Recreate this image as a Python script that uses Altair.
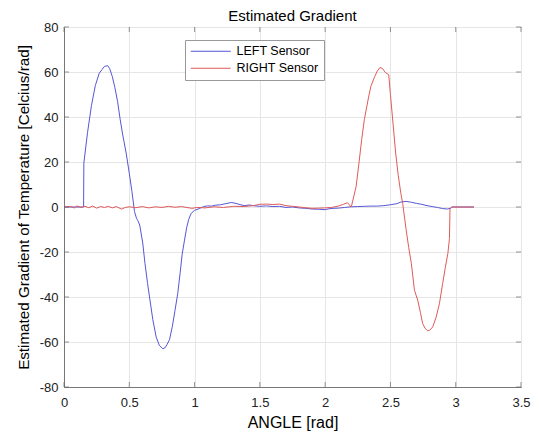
import altair as alt
import pandas as pd

# LEFT sensor (blue)
left_x = [0, 0.15, 0.152, 0.18, 0.21, 0.24, 0.27, 0.29, 0.31, 0.335, 0.35, 0.37, 0.39, 0.41, 0.43, 0.45,
          0.476, 0.5, 0.52, 0.54, 0.555, 0.565, 0.58, 0.603, 0.62, 0.64, 0.655, 0.68, 0.706, 0.73, 0.757,
          0.775, 0.79, 0.808, 0.83, 0.85, 0.871, 0.89, 0.905, 0.923, 0.94, 0.955, 0.974, 1.0, 1.04, 1.07,
          1.1, 1.13, 1.16, 1.2, 1.24, 1.28, 1.31, 1.34, 1.38, 1.42, 1.46, 1.5, 1.55, 1.6, 1.65, 1.7, 1.75,
          1.8, 1.85, 1.9, 1.95, 2.0, 2.03, 2.06, 2.1, 2.15, 2.2, 2.25, 2.3, 2.35, 2.4, 2.45, 2.5, 2.55,
          2.58, 2.62, 2.66, 2.7, 2.74, 2.78, 2.82, 2.86, 2.9, 2.94, 2.96, 2.97, 3.14]
left_y = [0, 0, 19.5, 33, 45, 54, 59.5, 61, 62.5, 62.8, 61.5, 58, 53, 47, 39, 32,
          24, 15, 7, -2, -5, -6, -8, -16, -25, -34, -40, -50, -57.8, -61.5, -63,
          -62.5, -61, -59, -53, -46, -38.5, -29, -21, -14.7, -9, -5.5, -2.8, -1.5, -0.6, 0.2,
          0.5, 0.4, 0.8, 1.0, 1.5, 2.0, 1.7, 1.2, 0.6, 0.9, 0.5, 0.3, 0.5, 0.2, 0.3, -0.2, 0.0,
          -0.4, -0.6, -0.9, -1.0, -1.2, -0.8, -0.6, -0.5, -0.2, 0.1, 0.2, 0.3, 0.4, 0.4, 0.6, 1.0, 1.5,
          2.2, 2.5, 2.1, 1.6, 1.2, 0.6, 0.2, -0.2, -0.7, -0.9, -0.5, 0, 0]

# RIGHT sensor (red)
right_x = [0, 0.05, 0.08, 0.1, 0.13, 0.16, 0.19, 0.22, 0.25, 0.28, 0.31, 0.34, 0.37, 0.4, 0.44, 0.47,
           0.5, 0.55, 0.6, 0.65, 0.7, 0.75, 0.8, 0.85, 0.9, 0.95, 0.98, 1.02, 1.08, 1.15, 1.22, 1.3,
           1.38, 1.45, 1.5, 1.55, 1.6, 1.65, 1.7, 1.75, 1.8, 1.85, 1.9, 1.95, 2.0, 2.05, 2.1, 2.14,
           2.17, 2.2, 2.237, 2.26, 2.28, 2.30, 2.33, 2.35, 2.38, 2.40, 2.42, 2.44, 2.46, 2.487, 2.50,
           2.52, 2.54, 2.56, 2.58, 2.594, 2.62, 2.64, 2.66, 2.684, 2.709, 2.73, 2.747, 2.766, 2.786,
           2.80, 2.824, 2.85, 2.875, 2.90, 2.92, 2.94, 2.952, 2.956, 2.97, 3.14]
right_y = [0, 0.2, -0.4, 0.5, -0.2, 0.3, -0.3, 0.4, -0.5, 0.2, -0.2, 0.3, -0.4, 0.2, -0.9, -0.2,
           0.1, -0.3, 0.2, -0.4, 0.1, -0.2, 0.3, -0.1, 0.2, -0.3, -0.6, -0.2, -0.4, 0.1, -0.2, 0.3,
           0.2, 0.6, 1.2, 1.3, 1.1, 1.3, 0.6, 0.3, 0.0, -0.3, -0.6, -0.5, -0.4, -0.2, 0.4, 1.2,
           1.9, 0, 9, 20, 30, 38.8, 48, 53.6, 58, 60.5, 62, 61.5, 59.8, 58.8, 50,
           37, 24, 14, 6, 1.6, -10, -18, -25, -37, -41.4, -47, -51.8, -54, -55,
           -54.8, -53.3, -49, -43, -34, -27, -20.6, -14, -1.0, 0, 0]

x_ticks = [0, 0.5, 1, 1.5, 2, 2.5, 3, 3.5]
y_ticks = [-80, -60, -40, -20, 0, 20, 40, 60, 80]

series = ["LEFT Sensor", "RIGHT Sensor"]
colors = ["#5656d8", "#e05a5a"]

df = pd.concat([
    pd.DataFrame({"x": left_x, "y": left_y, "s": series[0], "o": range(len(left_x))}),
    pd.DataFrame({"x": right_x, "y": right_y, "s": series[1], "o": range(len(right_x))}),
])

W, H = 457, 360
FONT = "Liberation Sans"

xs = alt.Scale(domain=[0, 3.5], nice=False, zero=False)
ys = alt.Scale(domain=[-80, 80], nice=False, zero=False)

axis_common = dict(grid=True, ticks=False, labelFlush=False, labelExpr="datum.value + ''",
                   labelFont=FONT, labelFontSize=13, labelColor="#222",
                   titleFont=FONT, titleFontWeight="normal", titleColor="#000",
                   gridColor="#e6e6e6", gridWidth=1, domainColor="#777", domainWidth=1)

lines = alt.Chart(df).mark_line(strokeWidth=1, clip=True).encode(
    x=alt.X("x:Q", scale=xs,
            axis=alt.Axis(values=x_ticks, title="ANGLE [rad]", labelPadding=9, titleFontSize=16,
                          titleY=40, titleBaseline="alphabetic", **axis_common)),
    y=alt.Y("y:Q", scale=ys,
            axis=alt.Axis(values=y_ticks, title="Estimated Gradient of Temperature [Celcius/rad]",
                          labelPadding=6, titleX=-36, titleY=H / 2, titleFontSize=15.2,
                          titleBaseline="alphabetic", titleAngle=-90, **axis_common)),
    color=alt.Color("s:N", scale=alt.Scale(domain=series, range=colors),
                    legend=alt.Legend(title=None, orient="none", legendX=121, legendY=13,
                                      symbolType="M-4,0L4,0", symbolSize=100, symbolStrokeWidth=1,
                                      symbolOffset=14.5,
                                      labelFontSize=12.5, labelFont=FONT, labelColor="#000",
                                      labelOffset=19.5, padding=5, rowPadding=4,
                                      strokeColor="#999", fillColor="#fff")),
    order="o:Q",
    detail="s:N",
)

tx = pd.DataFrame({"v": x_ticks})
ty = pd.DataFrame({"v": y_ticks})
tick_color = "#666"
bt = alt.Chart(tx).mark_tick(orient="vertical", size=5, color=tick_color, thickness=1).encode(
    x=alt.X("v:Q", scale=xs), y=alt.datum(-80, scale=ys), yOffset=alt.value(-2.5))
tt = alt.Chart(tx).mark_tick(orient="vertical", size=5, color=tick_color, thickness=1).encode(
    x=alt.X("v:Q", scale=xs), y=alt.datum(80, scale=ys), yOffset=alt.value(2.5))
lt = alt.Chart(ty).mark_tick(orient="horizontal", size=5, color=tick_color, thickness=1).encode(
    y=alt.Y("v:Q", scale=ys), x=alt.datum(0, scale=xs), xOffset=alt.value(2.5))
rt = alt.Chart(ty).mark_tick(orient="horizontal", size=5, color=tick_color, thickness=1).encode(
    y=alt.Y("v:Q", scale=ys), x=alt.datum(3.5, scale=xs), xOffset=alt.value(-2.5))

chart = alt.layer(lines, bt, tt, lt, rt).properties(
    width=W, height=H,
    title=alt.TitleParams("Estimated Gradient", font=FONT, fontSize=15, fontWeight="normal",
                          color="#000", anchor="middle", offset=-3),
    autosize=alt.AutoSizeParams(type="none"),
    padding={"left": 56, "top": 19, "right": 10, "bottom": 44},
    background="#ffffff",
).configure_axis(
    labelFont=FONT, labelFontSize=13, labelColor="#222",
    titleFont=FONT, titleFontWeight="normal", titleColor="#000",
    gridColor="#e6e6e6", gridWidth=1, domainColor="#777", domainWidth=1,
).configure_view(stroke="#777", strokeWidth=1)

chart.save("out.html", embed_options={"renderer": "svg", "actions": False})
